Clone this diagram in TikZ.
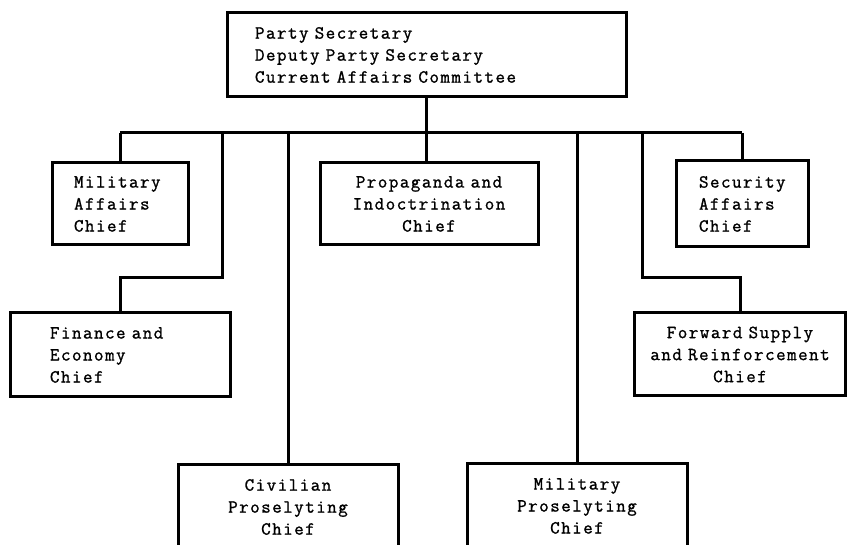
\documentclass[tikz,border=0pt]{standalone}
\usepackage{fontspec}
\newfontfamily\tw[LetterSpace=8,FakeBold=1.2]{Latin Modern Mono}
\begin{document}
\begin{tikzpicture}[x=1pt,y=-1pt,
  every node/.style={font=\tw\fontsize{18.5}{22}\selectfont},
  box/.style={draw,line width=3pt,rectangle,inner sep=0pt,anchor=center},
  link/.style={line width=3pt,line join=miter}]
\useasboundingbox (0,0) rectangle (847,545);
\clip (0,0) rectangle (847,545);

% committee at the top
\node[box,minimum width=399pt,minimum height=84pt,text width=343pt,align=left]
  (top) at (426.5,55) {Party Secretary\\Deputy Party Secretary\\Current Affairs Committee};

% first row
\node[box,minimum width=136pt,minimum height=82pt,text width=92pt,align=left]
  (mil) at (120,204) {Military\\Affairs\\Chief};
\node[box,minimum width=218pt,minimum height=82pt,text width=200pt,align=center]
  (prop) at (429,204) {Propaganda and\\Indoctrination\\Chief};
\node[box,minimum width=132pt,minimum height=86pt,text width=86pt,align=left]
  (sec) at (742,204) {Security\\Affairs\\Chief};

% second row
\node[box,minimum width=220pt,minimum height=84pt,text width=140pt,align=left]
  (fin) at (120,355) {Finance and\\Economy\\Chief};
\node[box,minimum width=211pt,minimum height=83pt,text width=205pt,align=center]
  (fwd) at (740,354.5) {Forward Supply\\and Reinforcement\\Chief};

% bottom row, running past the lower edge
\node[box,minimum width=220pt,minimum height=84pt,text width=200pt,align=center]
  (civ) at (288,507) {Civilian\\Proselyting\\Chief};
\node[box,minimum width=220pt,minimum height=84pt,text width=200pt,align=center]
  (mpro) at (577,506) {Military\\Proselyting\\Chief};

% distribution bus and taps
\coordinate (busL) at (120,133);
\coordinate (busR) at (742,133);
\coordinate (tapFin) at (222,133);
\coordinate (bendFin) at (222,278);
\coordinate (tapCiv) at (288,133);
\coordinate (tapMpro) at (577,133);
\coordinate (tapFwd) at (642,133);
\coordinate (bendFwd) at (642,278);

\draw[link] (busL) -- (busR);
\draw[link] (top.south) -- (top.south |- prop.north);
\draw[link] (busL) -- (mil.north);
\draw[link] (busR) -- (sec.north);
\draw[link] (tapFin) -- (bendFin) -| (fin.north);
\draw[link] (tapCiv) -- (civ.north);
\draw[link] (tapMpro) -- (mpro.north);
\draw[link] (tapFwd) -- (bendFwd) -| (fwd.north);
\end{tikzpicture}
\end{document}
